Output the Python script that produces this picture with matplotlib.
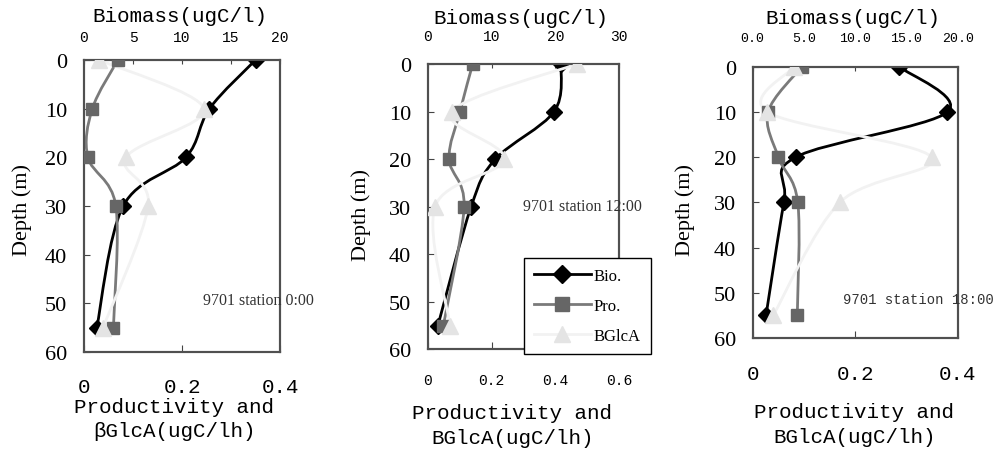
import numpy as np
import matplotlib
matplotlib.use("Agg")
import matplotlib.pyplot as plt
from matplotlib.path import Path
from matplotlib.patches import PathPatch
from matplotlib.lines import Line2D

# Profondeurs communes (m)
depth = [0, 10, 20, 30, 55]

# Station 0:00
bio_1 = [17.5, 12.8, 10.4, 4.0, 1.3]
pro_1 = [0.069, 0.017, 0.008, 0.065, 0.060]
bgl_1 = [0.031, 0.245, 0.086, 0.131, 0.039]

# Station 12:00
bio_2 = [20.9, 19.8, 10.6, 6.8, 1.6]
pro_2 = [0.141, 0.101, 0.067, 0.114, 0.049]
bgl_2 = [0.467, 0.075, 0.240, 0.023, 0.070]

# Station 18:00
bio_3 = [14.3, 19.0, 4.2, 3.05, 1.3]
pro_3 = [0.096, 0.030, 0.050, 0.088, 0.087]
bgl_3 = [0.081, 0.028, 0.349, 0.170, 0.040]

W, H = 997, 456
MONO = "Liberation Mono"
SERIF = "Liberation Serif"

BIO_C = "black"
PRO_C, PRO_LINE = "#666666", "#7a7a7a"
BGL_C, BGL_LINE = "#e4e4e4", "#f2f2f2"


def fx(px):
    return px / W


def fy(py):
    return 1 - py / H


def smooth(ax, xs, ys, color, lw=2.0):
    # courbe lissée type tableur (Catmull-Rom -> Bezier)
    pts = np.column_stack([xs, ys]).astype(float)
    n = len(pts)
    verts = [pts[0]]
    codes = [Path.MOVETO]
    for i in range(n - 1):
        p0 = pts[i - 1] if i > 0 else pts[i]
        p1, p2 = pts[i], pts[i + 1]
        p3 = pts[i + 2] if i + 2 < n else pts[i + 1]
        verts += [p1 + (p2 - p0) / 6, p2 - (p3 - p1) / 6, p2]
        codes += [Path.CURVE4] * 3
    ax.add_patch(PathPatch(Path(verts, codes), fill=False, edgecolor=color,
                           lw=lw, zorder=2, capstyle="round"))


def panel(fig, box, bio, pro, bgl, bio_max, bio_ticks, bio_lbl, prod_max,
          prod_ticks, prod_lbl, top_fs, bot_fs, top_pad, bot_pad):
    left, top, right, bottom = box
    ax = fig.add_axes([fx(left), fy(bottom), fx(right - left), (bottom - top) / H])
    ax2 = ax.twiny()
    ax.set_zorder(2)
    ax2.set_zorder(1)
    ax.patch.set_visible(False)
    ax2.set_facecolor("#bebebe")

    ax.set_xlim(0, prod_max)
    ax2.set_xlim(0, bio_max)
    ax.set_ylim(60, 0)

    smooth(ax2, bio, depth, BIO_C)
    ax2.plot(bio, depth, ls="none", marker="D", ms=8, color=BIO_C, zorder=3)
    smooth(ax, pro, depth, PRO_LINE)
    ax.plot(pro, depth, ls="none", marker="s", ms=9, color=PRO_C, zorder=3)
    smooth(ax, bgl, depth, BGL_LINE)
    ax.plot(bgl, depth, ls="none", marker="^", ms=11, color=BGL_C, zorder=4)

    ax.set_yticks([0, 10, 20, 30, 40, 50, 60])
    ax.tick_params(axis="y", direction="in", length=4, pad=12, labelsize=16,
                   color="#444444")
    for t in ax.get_yticklabels():
        t.set_fontfamily(SERIF)

    ax.set_xticks(prod_ticks)
    ax.set_xticklabels(prod_lbl, fontfamily=MONO, fontsize=bot_fs)
    ax.tick_params(axis="x", direction="in", length=5, pad=bot_pad, color="#444444")

    ax2.set_xticks(bio_ticks)
    ax2.set_xticklabels(bio_lbl, fontfamily=MONO, fontsize=top_fs)
    ax2.tick_params(axis="x", direction="in", length=3, pad=top_pad, color="#444444")

    for a in (ax, ax2):
        for s in a.spines.values():
            s.set_color("#505050")
            s.set_linewidth(1.5)
    return ax


fig = plt.figure(figsize=(W / 100, H / 100), dpi=100)

ax1 = panel(fig, (84, 61, 280, 353), bio_1, pro_1, bgl_1,
            20, [0, 5, 10, 15, 20], ["0", "5", "10", "15", "20"],
            0.4, [0, 0.2, 0.4], ["0", "0.2", "0.4"], 10.5, 15, 11.5, 18)
ax2_ = panel(fig, (427.7, 65, 619.3, 350.3), bio_2, pro_2, bgl_2,
             30, [0, 10, 20, 30], ["0", "10", "20", "30"],
             0.6, [0, 0.2, 0.4, 0.6], ["0", "0.2", "0.4", "0.6"], 10.5, 10.5, 15, 17)
ax3 = panel(fig, (752.7, 67.7, 957.7, 339), bio_3, pro_3, bgl_3,
            20, [0, 5, 10, 15, 20], ["0.0", "5.0", "10.0", "15.0", "20.0"],
            0.4, [0, 0.2, 0.4], ["0", "0.2", "0.4"], 9.5, 15, 16, 19)

# titres haut (Biomass)
for x, y in [(180, 16.7), (520.5, 18), (852.7, 19)]:
    fig.text(fx(x), fy(y), "Biomass(ugC/l)", fontfamily=MONO, fontsize=15,
             ha="center", va="center")

# titres bas
for x, y, s in [(174, 419.5, "Productivity and\nβGlcA(ugC/lh)"),
                (512.5, 426, "Productivity and\nBGlcA(ugC/lh)"),
                (854.3, 425, "Productivity and\nBGlcA(ugC/lh)")]:
    fig.text(fx(x), fy(y), s, fontfamily=MONO, fontsize=15, ha="center",
             va="center", linespacing=1.35)

# axe des profondeurs
for x, y in [(22, 210), (361, 215), (685, 210)]:
    fig.text(fx(x), fy(y), "Depth (m)", fontfamily=SERIF, fontsize=16,
             rotation=90, ha="center", va="center")

# noms des stations
fig.text(fx(203), fy(301), "9701 station 0:00", fontfamily=SERIF, fontsize=11.5,
         color="#333333", va="center")
fig.text(fx(522.7), fy(207), "9701 station 12:00", fontfamily=SERIF, fontsize=11.5,
         color="#333333", va="center")
fig.text(fx(842.7), fy(300), "9701 station 18:00", fontfamily=MONO, fontsize=10,
         color="#333333", va="center")

handles = [
    Line2D([], [], color=BIO_C, lw=2, marker="D", ms=9),
    Line2D([], [], color=PRO_LINE, lw=2, marker="s", ms=10, mfc=PRO_C, mec=PRO_C),
    Line2D([], [], color=BGL_LINE, lw=2, marker="^", ms=12, mfc=BGL_C, mec=BGL_C),
]
leg = ax2_.legend(handles, ["Bio.", "Pro.", "BGlcA"], loc="upper left",
                  bbox_to_anchor=(fx(524), fy(258.7)), bbox_transform=fig.transFigure,
                  prop={"family": SERIF, "size": 12}, frameon=True, fancybox=False,
                  framealpha=1, edgecolor="black", handlelength=3.4,
                  handletextpad=0.2, labelspacing=0.85, borderpad=0.6,
                  borderaxespad=0)
leg.get_frame().set_linewidth(1.0)
leg.set_zorder(10)

fig.savefig("out.png", dpi=100)
